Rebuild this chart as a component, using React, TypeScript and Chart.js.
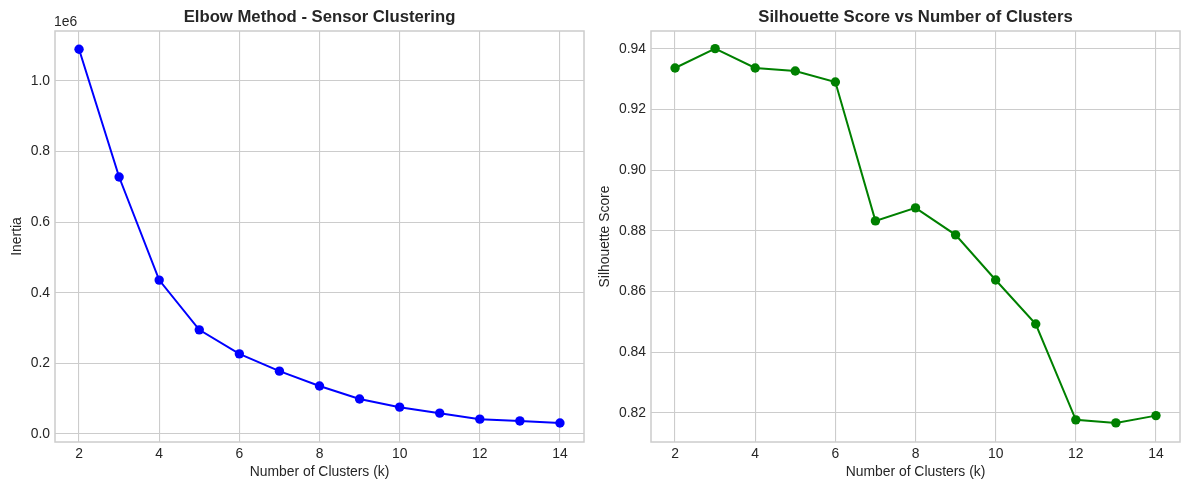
import React, { useEffect, useRef } from "react";
import { Chart, registerables } from "chart.js";

Chart.register(...registerables);

// Number of clusters tried
const clusterCounts = [2, 3, 4, 5, 6, 7, 8, 9, 10, 11, 12, 13, 14];

// K-means inertia for each k (in units of 1e6)
const inertiaValues = [1.09, 0.728, 0.436, 0.295, 0.227, 0.178, 0.136, 0.099, 0.076, 0.059, 0.042, 0.037, 0.031];

// Silhouette score for each k
const silhouetteValues = [0.9337, 0.9401, 0.9337, 0.9327, 0.9291, 0.8833, 0.8876, 0.8787, 0.8638, 0.8493, 0.8177, 0.8167, 0.8191];

const FONT = "'Liberation Sans', Arial, sans-serif";
const TEXT = "#262626";
const GRID = "#cccccc";

type PanelCfg = {
  title: string;
  yLabel: string;
  values: number[];
  color: string;
  yMin: number;
  yMax: number;
  yStep: number;
  yDecimals: number;
  offsetText?: string;
  yAxisWidth: number;
  yTitlePad: number;
  padRight: number;
};

function Panel({ cfg, left, width }: { cfg: PanelCfg; left: number; width: number }) {
  const ref = useRef<HTMLCanvasElement | null>(null);

  useEffect(() => {
    const canvas = ref.current;
    if (!canvas) return;

    const decor = {
      id: "decor",
      beforeDraw(chart: any) {
        const { ctx } = chart;
        ctx.save();
        ctx.fillStyle = "#ffffff";
        ctx.fillRect(0, 0, chart.width, chart.height);
        ctx.restore();
      },
      afterDraw(chart: any) {
        const { ctx, chartArea } = chart;
        ctx.save();
        // axes frame
        ctx.strokeStyle = GRID;
        ctx.lineWidth = 1.5;
        ctx.strokeRect(chartArea.left, chartArea.top, chartArea.right - chartArea.left, chartArea.bottom - chartArea.top);
        // title
        ctx.fillStyle = TEXT;
        ctx.font = `bold 16.7px ${FONT}`;
        ctx.textAlign = "center";
        ctx.textBaseline = "alphabetic";
        ctx.fillText(cfg.title, (chartArea.left + chartArea.right) / 2, 22);
        // exponent label
        if (cfg.offsetText) {
          ctx.font = `13.9px ${FONT}`;
          ctx.textAlign = "left";
          ctx.fillText(cfg.offsetText, chartArea.left - 1, 26);
        }
        ctx.restore();
      },
    };

    const chart = new Chart(canvas, {
      type: "line",
      data: {
        datasets: [
          {
            data: clusterCounts.map((k, i) => ({ x: k, y: cfg.values[i] })),
            borderColor: cfg.color,
            backgroundColor: cfg.color,
            pointBackgroundColor: cfg.color,
            pointBorderColor: cfg.color,
            pointRadius: 4.7,
            pointBorderWidth: 0,
            borderWidth: 2,
            tension: 0,
          },
        ],
      },
      options: {
        animation: false,
        responsive: false,
        maintainAspectRatio: false,
        layout: { padding: { top: 31, right: cfg.padRight, left: 0, bottom: 0 } },
        plugins: {
          legend: { display: false },
          tooltip: { enabled: false },
          title: { display: false },
        },
        scales: {
          x: {
            type: "linear",
            min: 1.4,
            max: 14.6,
            afterFit: (s: any) => {
              s.height = 48;
            },
            ticks: {
              stepSize: 2,
              includeBounds: false,
              color: TEXT,
              padding: 4,
              font: { family: FONT, size: 13.9 },
              callback: (v: any) => String(v),
            },
            grid: { color: GRID, lineWidth: 1.1, drawTicks: false },
            border: { display: false },
            title: {
              display: true,
              text: "Number of Clusters (k)",
              color: TEXT,
              font: { family: FONT, size: 13.9 },
              padding: { top: 0, bottom: 9.5 },
            },
          },
          y: {
            type: "linear",
            min: cfg.yMin,
            max: cfg.yMax,
            afterFit: (s: any) => {
              s.width = cfg.yAxisWidth;
            },
            ticks: {
              stepSize: cfg.yStep,
              includeBounds: false,
              color: TEXT,
              padding: 5,
              font: { family: FONT, size: 13.9 },
              callback: (v: any) => Number(v).toFixed(cfg.yDecimals),
            },
            grid: { color: GRID, lineWidth: 1.1, drawTicks: false },
            border: { display: false },
            title: {
              display: true,
              text: cfg.yLabel,
              color: TEXT,
              font: { family: FONT, size: 13.9 },
              padding: { top: cfg.yTitlePad, bottom: 0 },
            },
          },
        },
      },
      plugins: [decor],
    });

    return () => chart.destroy();
  }, [cfg]);

  return (
    <canvas
      ref={ref}
      width={width}
      height={490}
      style={{ position: "absolute", left, top: 0, width, height: 490 }}
    />
  );
}

const elbowPanel: PanelCfg = {
  title: "Elbow Method - Sensor Clustering",
  yLabel: "Inertia",
  values: inertiaValues,
  color: "#0000ff",
  yMin: -0.0227,
  yMax: 1.1416,
  yStep: 0.2,
  yDecimals: 1,
  offsetText: "1e6",
  yAxisWidth: 55,
  yTitlePad: 9,
  padRight: 10,
};

const silhouettePanel: PanelCfg = {
  title: "Silhouette Score vs Number of Clusters",
  yLabel: "Silhouette Score",
  values: silhouetteValues,
  color: "#008000",
  yMin: 0.8104,
  yMax: 0.9459,
  yStep: 0.02,
  yDecimals: 2,
  yAxisWidth: 57,
  yTitlePad: 2.5,
  padRight: 9,
};

export default function App() {
  return (
    <div style={{ position: "absolute", left: 0, top: 0, width: 1189, height: 490, background: "#fff" }}>
      <Panel cfg={elbowPanel} left={0} width={594} />
      <Panel cfg={silhouettePanel} left={594} width={595} />
    </div>
  );
}
